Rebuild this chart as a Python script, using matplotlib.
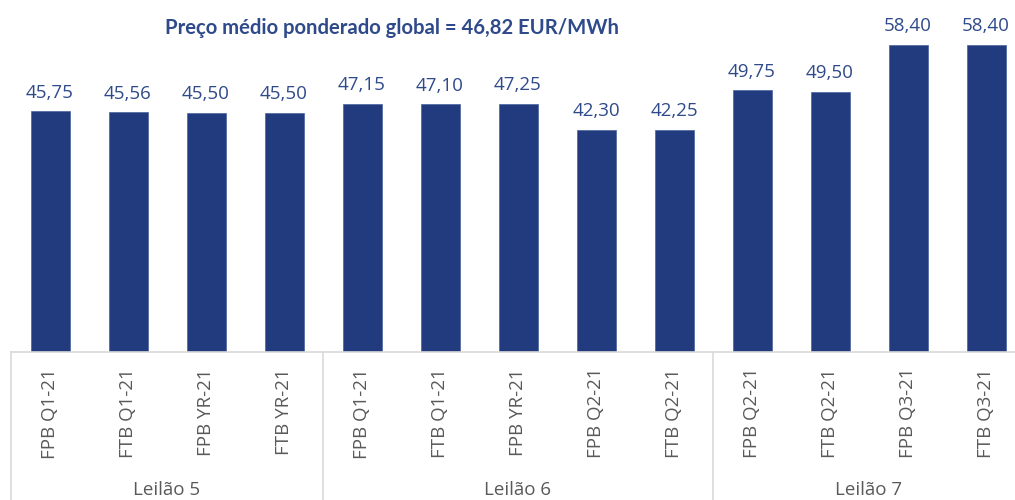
import matplotlib
matplotlib.use("Agg")
import matplotlib.pyplot as plt
from matplotlib.lines import Line2D

# =========================================================
# DADOS
# =========================================================

produtos = [
    "FPB Q1-21", "FTB Q1-21", "FPB YR-21", "FTB YR-21",
    "FPB Q1-21", "FTB Q1-21", "FPB YR-21", "FPB Q2-21", "FTB Q2-21",
    "FPB Q2-21", "FTB Q2-21", "FPB Q3-21", "FTB Q3-21",
]

precos = [
    45.75, 45.56, 45.50, 45.50,
    47.15, 47.10, 47.25, 42.30, 42.25,
    49.75, 49.50, 58.40, 58.40,
]

leiloes = ["Leilão 5", "Leilão 6", "Leilão 7"]
n_por_leilao = [4, 5, 4]

titulo = "Preço médio ponderado global = 46,82 EUR/MWh"

# =========================================================
# ESTILO
# =========================================================

plt.rcParams["font.family"] = ["Open Sans", "DejaVu Sans"]

COR_BARRA = "#213B7E"
COR_TEXTO = "#2F4A8A"
COR_CINZA = "#595959"
COR_LINHA = "#D9D9D9"

W, H = 1015, 500

fig = plt.figure(figsize=(W / 100, H / 100), dpi=100)

# eixo com a base em y=352 px, 78 px por categoria
ymax = 60
px_por_unidade = 307 / 58.4
ax_h = ymax * px_por_unidade
ax = fig.add_axes([11 / W, (H - 352) / H, 13 * 78 / W, ax_h / H])

x = list(range(len(precos)))

ax.bar(x, precos, width=0.5, color=COR_BARRA, edgecolor="#4A63A0", linewidth=0.5)

for xi, v in zip(x, precos):
    ax.annotate(
        f"{v:.2f}".replace(".", ","),
        (xi, v),
        xytext=(0, 10),
        textcoords="offset points",
        ha="center",
        va="baseline",
        fontsize=13.5,
        color=COR_TEXTO,
    )

ax.set_xlim(-0.5, len(precos) - 0.5)
ax.set_ylim(0, ymax)
ax.set_yticks([])
ax.set_xticks([])

for lado in ["top", "right", "left"]:
    ax.spines[lado].set_visible(False)

ax.spines["bottom"].set_color(COR_LINHA)
ax.spines["bottom"].set_linewidth(1.2)

# rótulos das categorias (rodados)
for xi, rotulo in zip(x, produtos):
    ax.text(
        xi, -16 / px_por_unidade, rotulo,
        rotation=90, ha="center", va="top",
        fontsize=13.5, color=COR_CINZA,
    )

# separadores e nomes dos leilões
limites = [0]
for n in n_por_leilao:
    limites.append(limites[-1] + n)

for b in limites:
    xb = b - 0.5
    ax.add_line(Line2D(
        [xb, xb], [0, -160 / px_por_unidade],
        color=COR_LINHA, linewidth=1.2, clip_on=False,
    ))

for i, nome in enumerate(leiloes):
    centro = (limites[i] + limites[i + 1]) / 2 - 0.5
    ax.text(
        centro, -138 / px_por_unidade, nome,
        ha="center", va="center",
        fontsize=13.5, color=COR_CINZA,
    )

fig.text(
    392 / W, 1 - 34 / H, titulo,
    ha="center", va="baseline",
    fontsize=14.6, fontweight="bold", color=COR_TEXTO,
    family=["Lato", "DejaVu Sans"],
)

fig.savefig("out.png", dpi=100)
